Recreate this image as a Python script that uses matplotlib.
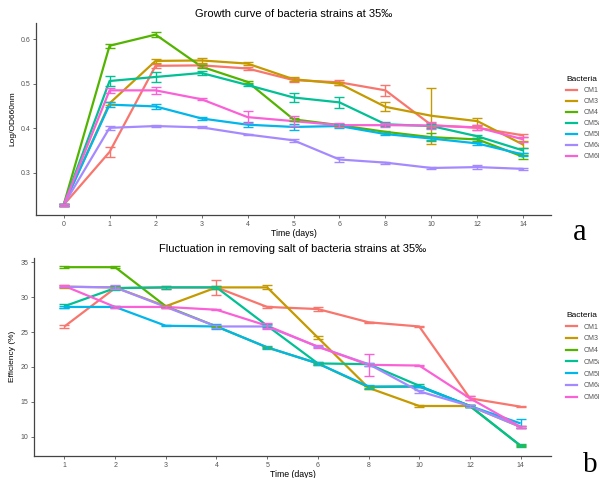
import matplotlib.pyplot as plt
from matplotlib.lines import Line2D

plt.rcParams["font.family"] = ["Liberation Sans", "DejaVu Sans"]

# ---- shared ----
strains = ["CM1", "CM3", "CM4", "CM5a", "CM5b", "CM6a", "CM6b"]
colors = ["#F8766D", "#C49A00", "#53B400", "#00C094", "#00B6EB", "#A58AFF", "#FB61D7"]

# ---- a: growth curve (Log/OD660nm) ----
growth_days = ["0", "1", "2", "3", "4", "5", "6", "8", "10", "12", "14"]
od_cm1 = [0.228, 0.347, 0.540, 0.541, 0.534, 0.508, 0.503, 0.485, 0.407, 0.401, 0.384]
od_cm3 = [0.228, 0.456, 0.551, 0.552, 0.545, 0.510, 0.500, 0.448, 0.428, 0.416, 0.363]
od_cm4 = [0.228, 0.585, 0.610, 0.538, 0.504, 0.420, 0.407, 0.392, 0.380, 0.375, 0.336]
od_cm5a = [0.228, 0.506, 0.515, 0.524, 0.497, 0.469, 0.458, 0.409, 0.405, 0.382, 0.350]
od_cm5b = [0.228, 0.453, 0.449, 0.422, 0.408, 0.403, 0.405, 0.387, 0.377, 0.366, 0.341]
od_cm6a = [0.228, 0.401, 0.405, 0.402, 0.386, 0.373, 0.330, 0.323, 0.311, 0.313, 0.309]
od_cm6b = [0.228, 0.485, 0.485, 0.465, 0.425, 0.416, 0.407, 0.407, 0.406, 0.402, 0.375]

od_err_cm1 = [0.002, 0.012, 0.004, 0.004, 0.004, 0.004, 0.006, 0.012, 0.004, 0.004, 0.003]
od_err_cm3 = [0.002, 0.004, 0.005, 0.006, 0.004, 0.004, 0.004, 0.010, 0.063, 0.008, 0.008]
od_err_cm4 = [0.002, 0.004, 0.006, 0.004, 0.003, 0.004, 0.003, 0.003, 0.009, 0.004, 0.005]
od_err_cm5a = [0.002, 0.012, 0.012, 0.004, 0.003, 0.010, 0.012, 0.004, 0.004, 0.004, 0.005]
od_err_cm5b = [0.002, 0.005, 0.005, 0.003, 0.005, 0.006, 0.005, 0.003, 0.003, 0.003, 0.004]
od_err_cm6a = [0.002, 0.005, 0.002, 0.002, 0.002, 0.003, 0.005, 0.002, 0.003, 0.005, 0.002]
od_err_cm6b = [0.002, 0.005, 0.008, 0.002, 0.013, 0.012, 0.004, 0.005, 0.008, 0.006, 0.006]

# ---- b: salt removal efficiency (%) ----
salt_days = ["1", "2", "3", "4", "5", "6", "8", "10", "12", "14"]
eff_cm1 = [25.8, 31.3, 31.4, 31.4, 28.6, 28.3, 26.4, 25.8, 15.5, 14.3]
eff_cm3 = [31.5, 31.4, 28.7, 31.4, 31.4, 24.2, 17.0, 14.4, 14.4, 11.4]
eff_cm4 = [34.3, 34.3, 28.7, 25.8, 22.8, 20.5, 17.1, 17.2, 14.4, 8.7]
eff_cm5a = [28.7, 31.3, 31.4, 31.4, 25.9, 20.5, 20.4, 17.3, 14.4, 8.7]
eff_cm5b = [28.6, 28.6, 25.9, 25.8, 22.8, 20.5, 17.2, 17.2, 14.4, 11.9]
eff_cm6a = [31.5, 31.4, 28.6, 25.8, 25.8, 22.9, 20.4, 16.5, 14.4, 11.4]
eff_cm6b = [31.6, 28.6, 28.6, 28.2, 25.9, 22.9, 20.3, 20.2, 15.5, 11.4]

eff_err_cm1 = [0.2, 0.2, 0.2, 1.1, 0.2, 0.3, 0.1, 0.1, 0.3, 0.1]
eff_err_cm3 = [0.2, 0.2, 0.2, 0.2, 0.3, 0.2, 0.2, 0.1, 0.2, 0.2]
eff_err_cm4 = [0.1, 0.1, 0.1, 0.1, 0.1, 0.1, 0.2, 0.1, 0.1, 0.1]
eff_err_cm5a = [0.3, 0.3, 0.2, 0.2, 0.2, 0.2, 0.2, 0.2, 0.2, 0.2]
eff_err_cm5b = [0.2, 0.1, 0.1, 0.3, 0.2, 0.2, 0.2, 0.1, 0.1, 0.7]
eff_err_cm6a = [0.1, 0.3, 0.1, 0.2, 0.2, 0.1, 0.2, 0.2, 0.1, 0.2]
eff_err_cm6b = [0.1, 0.1, 0.1, 0.1, 0.4, 0.2, 1.6, 0.1, 0.3, 0.2]

growth_vals = [od_cm1, od_cm3, od_cm4, od_cm5a, od_cm5b, od_cm6a, od_cm6b]
growth_errs = [od_err_cm1, od_err_cm3, od_err_cm4, od_err_cm5a, od_err_cm5b, od_err_cm6a, od_err_cm6b]
salt_vals = [eff_cm1, eff_cm3, eff_cm4, eff_cm5a, eff_cm5b, eff_cm6a, eff_cm6b]
salt_errs = [eff_err_cm1, eff_err_cm3, eff_err_cm4, eff_err_cm5a, eff_err_cm5b, eff_err_cm6a, eff_err_cm6b]


def panel(ax, days, vals, errs, title, ylabel, yticks, ylim, yfmt):
    x = list(range(len(days)))
    for v, c in zip(vals, colors):
        ax.plot(x, v, color=c, lw=1.6, zorder=2, solid_capstyle="butt")
    # error bars sit on top of the lines, like the ggplot original
    for v, e, c in zip(vals, errs, colors):
        ax.errorbar(x, v, yerr=e, fmt="none", ecolor=c, elinewidth=1.0,
                    capsize=3.5, capthick=1.0, zorder=3)
    ax.set_xlim(-0.6, len(days) - 0.4)
    ax.set_ylim(*ylim)
    ax.set_xticks(x)
    ax.set_xticklabels(days)
    ax.set_yticks(yticks)
    ax.set_yticklabels([yfmt.format(t) for t in yticks])
    ax.tick_params(labelsize=5, colors="#555555", length=2, width=0.6, pad=2)
    for s in ["top", "right"]:
        ax.spines[s].set_visible(False)
    for s in ["left", "bottom"]:
        ax.spines[s].set_color("#444444")
        ax.spines[s].set_linewidth(0.9)
    ax.set_title(title, fontsize=8.0, pad=4)
    ax.set_xlabel("Time (days)", fontsize=6.3, labelpad=1)
    ax.set_ylabel(ylabel, fontsize=6, labelpad=3)


fig = plt.figure(figsize=(5.99, 4.78), dpi=100)

ax1 = fig.add_axes([0.0601, 0.5502, 0.8598, 0.4017])
panel(ax1, growth_days, growth_vals, growth_errs,
      "Growth curve of bacteria strains at 35\u2030", "Log/OD660nm",
      [0.3, 0.4, 0.5, 0.6], (0.2056, 0.636), "{:.1f}")

ax2 = fig.add_axes([0.0568, 0.046, 0.8631, 0.4149])
panel(ax2, salt_days, salt_vals, salt_errs,
      "Fluctuation in removing salt of bacteria strains at 35\u2030", "Efficiency (%)",
      [10, 15, 20, 25, 30, 35], (7.23, 35.66), "{:d}")

# legends run off the right edge of the picture, as in the reference
handles = [Line2D([0], [0], color=c, lw=1.6) for c in colors]
for ax, top, spacing in [(ax1, 1 - 76 / 478, 0.58), (ax2, 1 - 312 / 478, 0.68)]:
    leg = ax.legend(handles, strains, title="Bacteria", loc="upper left",
                    bbox_to_anchor=(566 / 599, top), bbox_transform=fig.transFigure,
                    frameon=False, fontsize=5, title_fontsize=6, handlelength=1.6,
                    handletextpad=0.9, labelspacing=spacing, borderpad=0,
                    borderaxespad=0, alignment="left")
    for t in leg.get_texts():
        t.set_color("#555555")

fig.text(580 / 599, 1 - 240 / 478, "a", fontsize=22, family="Liberation Serif",
         ha="center", va="baseline")
fig.text(590 / 599, 1 - 472 / 478, "b", fontsize=21, family="Liberation Serif",
         ha="center", va="baseline")

fig.savefig("out.png", dpi=100)
